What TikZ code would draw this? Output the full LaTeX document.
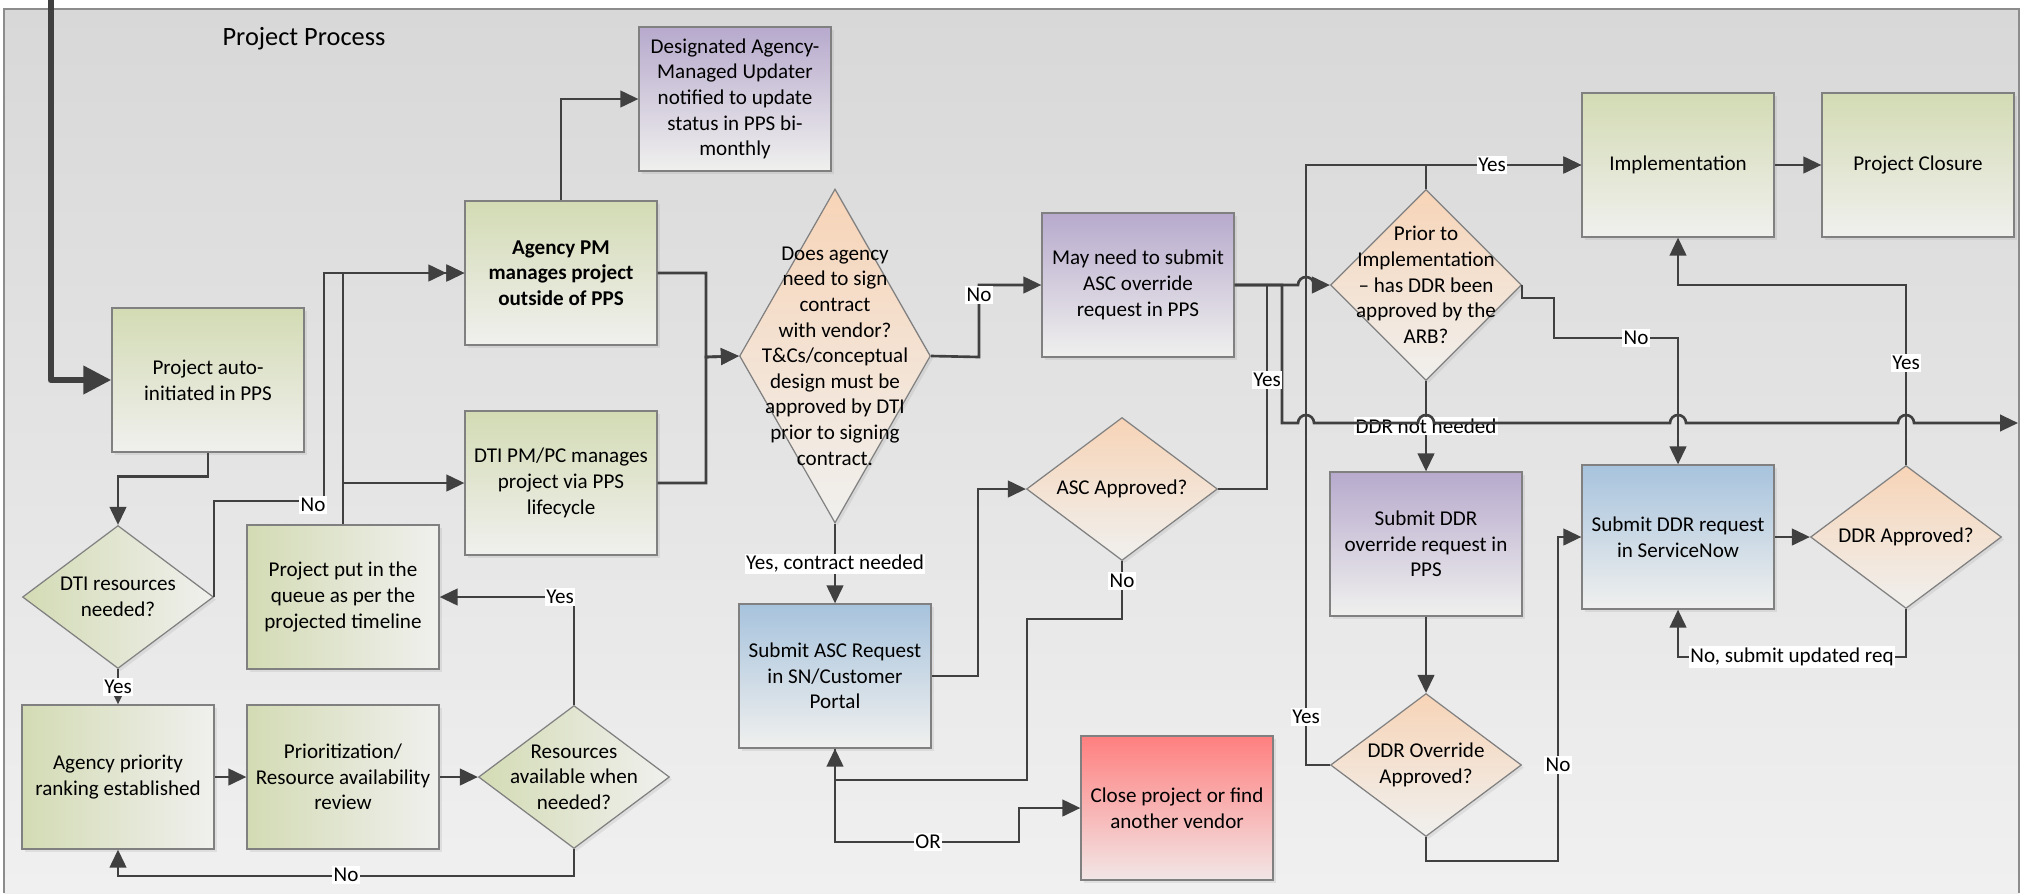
\documentclass[tikz,border=0pt]{standalone}
\usepackage{fontspec}
\setmainfont{Carlito}
\usepackage{tikz}
\usetikzlibrary{shapes.geometric, arrows.meta, shadows}

\definecolor{linegray}{HTML}{404040}
\definecolor{boxline}{HTML}{808080}
\definecolor{framegray}{HTML}{8C8C8C}
\definecolor{greentop}{HTML}{D3DBB4}
\definecolor{purpletop}{HTML}{B7AACD}
\definecolor{bluetop}{HTML}{A7C3DD}
\definecolor{orangetop}{HTML}{F7D4B7}
\definecolor{redtop}{HTML}{FF7F7F}
\definecolor{redend}{HTML}{F2E6E6}
\definecolor{fadeend}{HTML}{F0F0EE}
\definecolor{bgtop}{HTML}{D8D8D8}
\definecolor{bgend}{HTML}{F0F0F0}

\tikzset{every picture/.style={x=0.02cm, y=-0.02cm}}
\tikzset{
  every node/.style={font=\fontsize{12}{14.6}\selectfont},
  >={Triangle[length=3.6mm, width=3.3mm]},
  conn/.style={draw=linegray, line width=1.5pt, ->},
  link/.style={draw=linegray, line width=1.5pt},
  lbl/.style={fill=white, inner xsep=0.8pt, inner ysep=1pt},
  box/.style={rectangle, draw=boxline, line width=0.7pt, minimum width=3.84cm, minimum height=2.88cm,
    align=center, inner sep=1pt, drop shadow={shadow xshift=1.5pt, shadow yshift=-1.5pt, opacity=0.15}},
  greenbox/.style={box, top color=greentop, bottom color=fadeend},
  greenside/.style={box, left color=greentop, right color=fadeend},
  purplebox/.style={box, top color=purpletop, bottom color=fadeend},
  bluebox/.style={box, top color=bluetop, bottom color=fadeend},
  redbox/.style={box, top color=redtop, bottom color=redend},
  decision/.style={diamond, draw=boxline, line width=0.7pt, minimum width=3.82cm, minimum height=2.86cm,
    inner sep=0pt, drop shadow={shadow xshift=1.5pt, shadow yshift=-1.5pt, opacity=0.15}},
  orangedec/.style={decision, top color=orangetop, bottom color=fadeend},
  greendec/.style={decision, left color=greentop, right color=fadeend},
  dtext/.style={align=center}
}

\begin{document}
\begin{tikzpicture}
    \useasboundingbox (0,0) rectangle (2021,893);

    % Frame
    \shade[top color=bgtop, bottom color=bgend] (4,9) rectangle (2019,893);
    \draw[framegray, line width=0.8pt] (4,893) -- (4,9) -- (2019,9) -- (2019,893);
    \node[font=\fontsize{15}{18}\selectfont] (title) at (304,39) {Project Process};

    % Boxes
    \node[greenbox] (auto) at (208,380) {Project auto-\\initiated in PPS};
    \node[greenbox, font=\fontsize{12}{14.6}\selectfont\bfseries] (agpm) at (561,273) {Agency PM\\manages project\\outside of PPS};
    \node[purplebox] (desig) at (735,99) {Designated Agency-\\Managed Updater\\notified to update\\status in PPS bi-\\monthly};
    \node[greenbox] (dtipm) at (561,483) {DTI PM/PC manages\\project via PPS\\lifecycle};
    \node[greendec, label={[dtext]center:{DTI resources\\needed?}}] (dtires) at (118,597) {};
    \node[greenside] (queue) at (343,597) {Project put in the\\queue as per the\\projected timeline};
    \node[greenside] (rank) at (118,777) {Agency priority\\ranking established};
    \node[greenside] (prio) at (343,777) {Prioritization/\\Resource availability\\review};
    \node[greendec, label={[dtext]center:{Resources\\available when\\needed?}}] (resav) at (574,777) {};
    \node[orangedec, minimum height=6.68cm, label={[dtext]center:{Does agency\\need to sign\\contract\\with vendor?\\T\&Cs/conceptual\\design must be\\approved by DTI\\prior to signing\\contract.}}] (contract) at (835,356) {};
    \node[purplebox] (ascov) at (1138,285) {May need to submit\\ASC override\\request in PPS};
    \node[bluebox] (ascreq) at (835,676) {Submit ASC Request\\in SN/Customer\\Portal};
    \node[orangedec, label={[dtext]center:{ASC Approved?}}] (ascap) at (1122,489) {};
    \node[redbox] (close) at (1177,808) {Close project or find\\another vendor};
    \node[orangedec, minimum height=3.82cm, label={[dtext]center:{Prior to\\Implementation\\\textendash{} has DDR been\\approved by the\\ARB?}}] (prior) at (1426,285) {};
    \node[purplebox] (ddrovreq) at (1426,544) {Submit DDR\\override request in\\PPS};
    \node[orangedec, label={[dtext]center:{DDR Override\\Approved?}}] (ddrov) at (1426,765) {};
    \node[bluebox] (snow) at (1678,537) {Submit DDR request\\in ServiceNow};
    \node[orangedec, label={[dtext]center:{DDR Approved?}}] (ddrap) at (1906,537) {};
    \node[greenbox] (impl) at (1678,165) {Implementation};
    \node[greenbox] (closure) at (1918,165) {Project Closure};

    % Entry arrow
    \coordinate (entry) at (51,0);
    \draw[linegray, line width=3.8pt, line join=round, -{Triangle[length=5.6mm, width=5.4mm]}] (entry) |- (auto.west);

    % Connectors, left part
    \draw[conn] (auto.south) -- ++(0,24) -| (dtires.north);
    \draw[conn] (dtires.east) |- (324,501) |- (agpm.west);
    \draw[conn, ->>] (queue.north) |- (agpm.west);
    \draw[conn] (queue.north) |- (dtipm.west);
    \draw[conn] (dtires.south) -- (rank.north);
    \draw[conn] (rank) -- (prio);
    \draw[conn] (prio) -- (resav);
    \draw[conn] (resav.north) |- (queue.east);
    \draw[conn] (resav.south) -- ++(0,27) -| (rank.south);
    \draw[conn] (agpm.north) |- (desig.west);

    % Connectors, contract part
    \coordinate (join) at (706,357);
    \draw[conn] (agpm.east) -| (join) -- (contract.west);
    \draw[conn] (dtipm.east) -| (join) -- (contract.west);
    \draw[conn] (contract.east) -- (979,357) |- (ascov.west);
    \draw[conn] (contract.south) -- (ascreq.north);
    \draw[conn] (ascreq.east) -- (978,676) |- (ascap.west);
    \draw[conn] (ascap.south) -- (1122,619) -- (1027,619) -- (1027,780) -| (ascreq.south);
    \draw[conn] (ascreq.south) -- (835,842) -- (1019,842) |- (close.west);
    \draw[link] (ascap.east) -- (1267,489) -- (1267,285);

    % Connectors, DDR part
    \draw[conn] (prior.north) |- (impl.west);
    \draw[conn] (ddrov.west) -- (1306,765) |- (impl.west);
    \draw[conn] (ascov.east) -- (1298,285) arc[start angle=180, end angle=0, radius=0.16cm] -- (prior.west);
    \draw[conn] (prior.east) -- ++(0,13) -- (1554,298) -- (1554,338) -| (snow.north);
    \draw[conn] (prior.south) -- (ddrovreq.north) node[lbl, pos=0.5] (lddr) {DDR not needed};
    \draw[conn] (ddrovreq.south) -- (ddrov.north);
    \draw[conn] (ddrov.south) -- (1426,861) -- (1558,861) |- (snow.west);
    \draw[conn] (snow) -- (ddrap);
    \draw[conn] (ddrap.south) -- (1906,657) -| (snow.south);
    \draw[conn] (ddrap.north) -- (1906,285) -| (impl.south);
    \draw[conn] (impl) -- (closure);

    % Line leaving the lane
    \coordinate (exit) at (2018,423);
    \draw[conn] (ascov.east) -- (1282,285) -- (1282,423) -- (1298,423)
        arc[start angle=180, end angle=0, radius=0.16cm] -- (1418,423)
        arc[start angle=180, end angle=0, radius=0.16cm] -- (1670,423)
        arc[start angle=180, end angle=0, radius=0.16cm] -- (1898,423)
        arc[start angle=180, end angle=0, radius=0.16cm] -- (exit);

    % Labels
    \node[lbl] (lno1) at (313,505) {No};
    \node[lbl] (lyes1) at (118,687) {Yes};
    \node[lbl] (lyes2) at (560,597) {Yes};
    \node[lbl] (lno2) at (346,875) {No};
    \node[lbl] (lno3) at (979,295) {No};
    \node[lbl] (lyes3) at (835,564) {Yes, contract needed};
    \node[lbl] (lno4) at (1122,581) {No};
    \node[lbl] (lor) at (928,842) {OR};
    \node[lbl] (lyes4) at (1267,380) {Yes};
    \node[lbl] (lyes5) at (1492,165) {Yes};
    \node[lbl] (lno5) at (1636,338) {No};
    \node[lbl] (lyes6) at (1306,717) {Yes};
    \node[lbl] (lno6) at (1558,765) {No};
    \node[lbl] (lno7) at (1792,657) {No, submit updated req};
    \node[lbl] (lyes7) at (1906,363) {Yes};
\end{tikzpicture}
\end{document}
